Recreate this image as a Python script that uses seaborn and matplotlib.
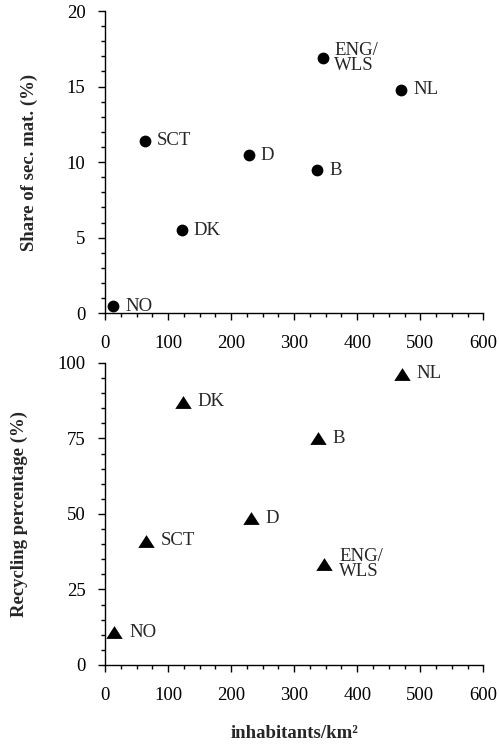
import matplotlib
matplotlib.use("Agg")
import matplotlib.pyplot as plt
import seaborn as sns
import pandas as pd
from matplotlib.ticker import MultipleLocator

countries = ["NO", "SCT", "DK", "D", "B", "ENG/\nWLS", "NL"]
share_x = [13, 63, 122, 228, 337, 345, 470]
share_y = [0.45, 11.4, 5.5, 10.45, 9.45, 16.9, 14.8]
recyc_x = [15, 65, 123, 231, 338, 348, 471]
recyc_y = [10.9, 41.2, 87.2, 48.6, 75.0, 33.4, 96.4]

sns.set_theme(style="ticks")
plt.rcParams["font.family"] = ["Liberation Serif", "DejaVu Serif"]
FS = 13.5

fig = plt.figure(figsize=(4.99, 7.45), dpi=100)
ax1 = fig.add_axes([0.2104, 0.5795, 0.7582, 0.4057])
ax2 = fig.add_axes([0.2104, 0.1074, 0.7582, 0.4054])

df1 = pd.DataFrame({"x": share_x, "y": share_y, "c": countries})
df2 = pd.DataFrame({"x": recyc_x, "y": recyc_y, "c": countries})

sns.scatterplot(data=df1, x="x", y="y", ax=ax1, color="black", s=72,
                marker="o", edgecolor="black", linewidth=0, legend=False)
tri = [(-1, -0.78), (1, -0.78), (0, 0.78)]
sns.scatterplot(data=df2, x="x", y="y", ax=ax2, color="black", s=140,
                marker=tri, edgecolor="black", linewidth=0, legend=False)

for ax, df, off in ((ax1, df1, 8.5), (ax2, df2, 10.5)):
    for _, r in df.iterrows():
        ax.annotate(r["c"], (r["x"], r["y"]), xytext=(off, 0),
                    textcoords="offset points", va="center", ha="left",
                    fontsize=FS, linespacing=0.85)
    ax.set_xlim(0, 600)
    ax.xaxis.set_major_locator(MultipleLocator(100))
    ax.xaxis.set_minor_locator(MultipleLocator(25))
    for s in ("top", "right"):
        ax.spines[s].set_visible(False)
    for s in ("left", "bottom"):
        ax.spines[s].set_linewidth(1.0)
        ax.spines[s].set_color("black")
    ax.tick_params(which="major", direction="out", length=5, width=1,
                   labelsize=FS, colors="black")
    ax.tick_params(which="minor", direction="out", length=2.7, width=1,
                   colors="black")
    ax.tick_params(axis="y", which="major", pad=9)
    ax.tick_params(axis="x", which="major", pad=11)
    ax.set_xlabel("")
    ax.set_ylabel("")

ax1.set_ylim(0, 20)
ax1.yaxis.set_major_locator(MultipleLocator(5))
ax1.yaxis.set_minor_locator(MultipleLocator(1))
ax1.set_ylabel("Share of sec. mat. (%)", fontsize=FS, fontweight="bold")
ax1.yaxis.set_label_coords(-0.177, 0.5)

ax2.set_ylim(0, 100)
ax2.yaxis.set_major_locator(MultipleLocator(25))
ax2.yaxis.set_minor_locator(MultipleLocator(5))
ax2.set_ylabel("Recycling percentage (%)", fontsize=FS, fontweight="bold")
ax2.yaxis.set_label_coords(-0.204, 0.5)
ax2.set_xlabel("inhabitants/km²", fontsize=FS, fontweight="bold", labelpad=15)

fig.savefig("out.png", dpi=100)
